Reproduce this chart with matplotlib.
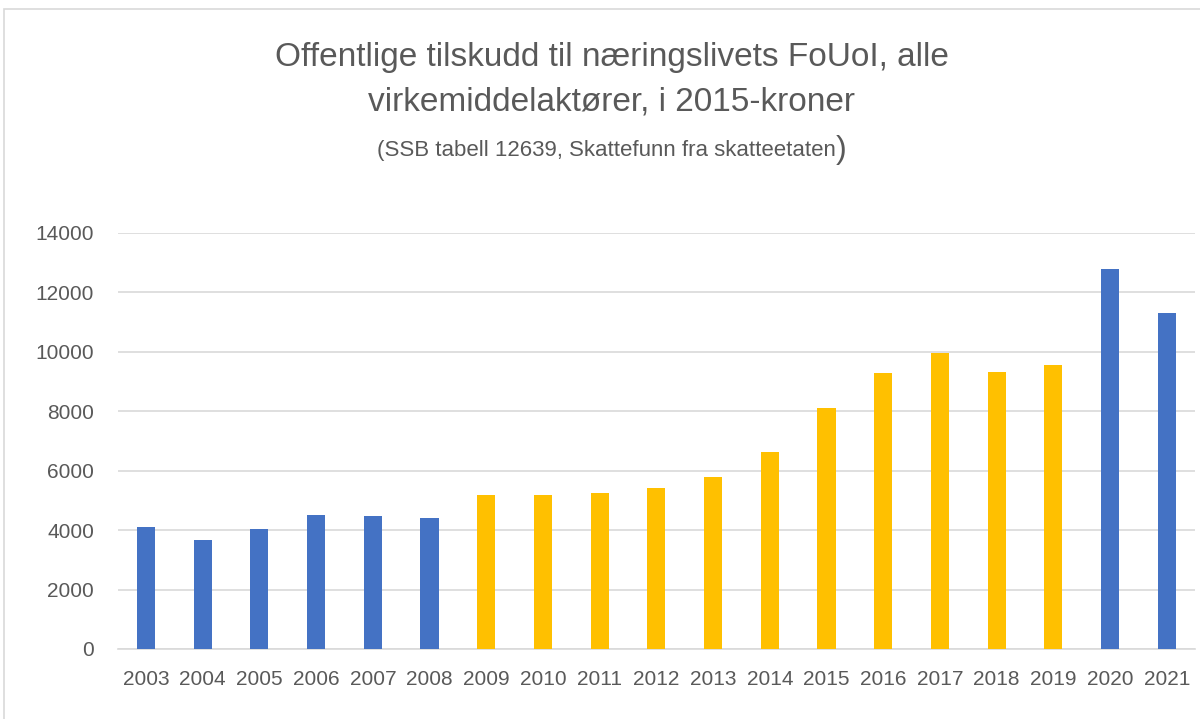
import matplotlib.pyplot as plt
from matplotlib.patches import Rectangle

plt.rcParams['font.family'] = ['Liberation Sans', 'DejaVu Sans']

years = ['2003', '2004', '2005', '2006', '2007', '2008', '2009', '2010', '2011', '2012',
         '2013', '2014', '2015', '2016', '2017', '2018', '2019', '2020', '2021']
values = [4100, 3670, 4050, 4510, 4480, 4410, 5190, 5190, 5250, 5420,
          5790, 6630, 8110, 9280, 9950, 9310, 9550, 12800, 11300]
groups = ['b'] * 6 + ['y'] * 11 + ['b'] * 2
ticks = [0, 2000, 4000, 6000, 8000, 10000, 12000, 14000]

blue = '#4472C4'
yellow = '#FFC000'
grey_txt = '#595959'
grid_col = '#d9d9d9'

fig = plt.figure(figsize=(12, 7.19), dpi=100)
ax = fig.add_axes([0.098, 0.0974, 0.898, 0.5786])

cols = [blue if g == 'b' else yellow for g in groups]
ax.bar(range(len(years)), values, width=0.32, color=cols, zorder=3)

ax.set_xlim(-0.5, len(years) - 0.5)
ax.set_ylim(0, 14000)
ax.set_yticks(ticks)
ax.set_yticklabels([str(t) for t in ticks])
ax.set_xticks(range(len(years)))
ax.set_xticklabels(years)
ax.yaxis.grid(True, color=grid_col, linewidth=1.2, zorder=0)
for s in ['top', 'right', 'left']:
    ax.spines[s].set_visible(False)
ax.spines['bottom'].set_color(grid_col)
ax.spines['bottom'].set_linewidth(1.2)
ax.tick_params(axis='both', length=0, labelsize=15, colors=grey_txt)
ax.tick_params(axis='y', pad=17)
ax.tick_params(axis='x', pad=15)

# titler
fig.text(0.51, 0.920, 'Offentlige tilskudd til næringslivets FoUoI, alle',
         ha='center', va='center', fontsize=24, color=grey_txt)
fig.text(0.51, 0.858, 'virkemiddelaktører, i 2015-kroner',
         ha='center', va='center', fontsize=24, color=grey_txt)

sub = fig.text(0, 0.790, '(SSB tabell 12639, Skattefunn fra skatteetaten',
               ha='left', va='center', fontsize=16, color=grey_txt)
par = fig.text(0, 0.792, ')', ha='left', va='center', fontsize=23, color=grey_txt)
fig.canvas.draw()
r = fig.canvas.get_renderer()
w1 = sub.get_window_extent(r).width
w2 = par.get_window_extent(r).width
x0 = (0.51 * 1200 - (w1 + w2) / 2) / 1200
sub.set_x(x0)
par.set_x(x0 + w1 / 1200)

# ramme
fig.patches.append(Rectangle((4 / 1200, -0.1), 1.2, 1 - 9 / 719 + 0.1,
                             transform=fig.transFigure, fill=False,
                             edgecolor=grid_col, linewidth=1.2))

fig.savefig('out.png', dpi=100)
